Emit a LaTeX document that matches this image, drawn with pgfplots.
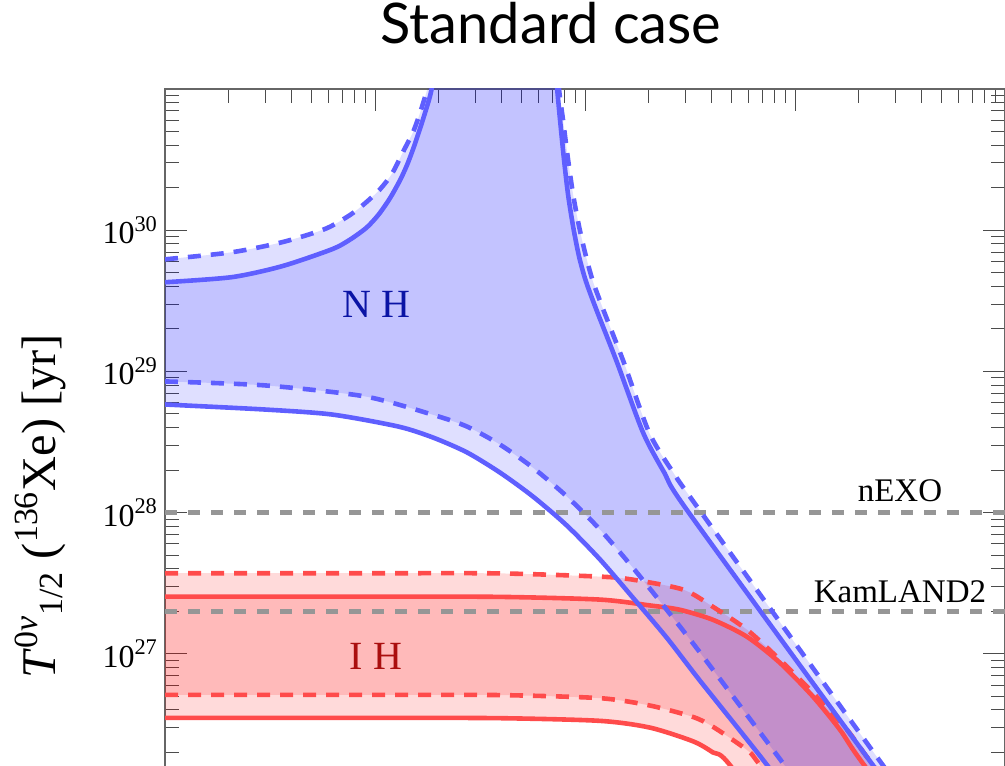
\documentclass[border=0pt]{standalone}
\usepackage{fontspec}
\setmainfont{Liberation Serif}
\newfontfamily\titlefont{Lato}
\usepackage{pgfplots}
\pgfplotsset{compat=1.18}
\usepgfplotslibrary{fillbetween}
\usepackage{pgfplotstable}

\definecolor{nhline}{RGB}{95,95,255}
\definecolor{ihline}{RGB}{255,75,75}
\definecolor{nhtext}{RGB}{10,20,165}
\definecolor{ihtext}{RGB}{170,15,15}
\definecolor{expgray}{RGB}{150,150,150}

% NH, solid, upper boundary (left branch + right branch)
\pgfplotstableread{
x y
1e-4 4.28e29
2.08e-4 4.65e29
3.61e-4 5.56e29
6.24e-4 7.33e29
7.60e-4 8.57e29
8.96e-4 1.02e30
9.68e-4 1.14e30
1.057e-3 1.33e30
1.18e-3 1.69e30
1.316e-3 2.26e30
1.42e-3 2.89e30
1.518e-3 3.75e30
1.60e-3 4.72e30
1.694e-3 6.12e30
1.828e-3 8.91e30
1.89e-3 1.18e31
2.0e-3 3.0e31
6.9e-3 3.0e31
7.36e-3 1.02e31
7.60e-3 6.12e30
7.94e-3 3.19e30
8.30e-3 1.80e30
8.77e-3 1.07e30
9.36e-3 6.55e29
1.01e-2 4.35e29
1.14e-2 2.67e29
1.42e-2 1.16e29
1.89e-2 3.69e28
2.40e-2 1.89e28
3.12e-2 1.0e28
0.22 1.86e26
0.4 5.6e25
}\nhsolidup

% NH, dashed, upper boundary
\pgfplotstableread{
x y
1e-4 6.22e29
2.08e-4 6.98e29
3.61e-4 8.22e29
5.78e-4 1.02e30
7.60e-4 1.28e30
8.96e-4 1.55e30
1.057e-3 1.95e30
1.21e-3 2.54e30
1.39e-3 3.82e30
1.518e-3 4.95e30
1.638e-3 6.76e30
1.77e-3 9.84e30
1.85e-3 1.28e31
1.95e-3 3.0e31
7.05e-3 3.0e31
7.51e-3 1.02e31
7.85e-3 6.12e30
8.30e-3 3.19e30
8.77e-3 1.80e30
9.36e-3 1.07e30
1.01e-2 6.55e29
1.09e-2 4.35e29
1.23e-2 2.67e29
1.53e-2 1.16e29
2.02e-2 3.69e28
2.65e-2 1.89e28
3.58e-2 1.0e28
0.2455 1.86e26
0.4 7.0e25
}\nhdashup

% NH, solid, lower boundary
\pgfplotstableread{
x y
1e-4 5.83e28
2.99e-4 5.37e28
6.24e-4 4.95e28
1.29e-3 4.07e28
1.89e-3 3.40e28
2.74e-3 2.67e28
3.94e-3 1.92e28
5.65e-3 1.30e28
8.2e-3 8.09e27
1.18e-2 4.65e27
1.69e-2 2.50e27
2.45e-2 1.30e27
3.53e-2 6.44e26
7.36e-2 1.63e26
0.15 3.9e25
}\nhsolidlow

% NH, dashed, lower boundary
\pgfplotstableread{
x y
1e-4 8.49e28
2.99e-4 7.96e28
8.96e-4 6.65e28
1.87e-3 4.95e28
2.74e-3 4.07e28
3.94e-3 3.03e28
5.65e-3 2.08e28
8.2e-3 1.30e28
1.18e-2 7.57e27
1.69e-2 4.07e27
2.45e-2 2.05e27
3.53e-2 1.02e27
8.2e-2 1.92e26
0.15 5.7e25
}\nhdashlow

% IH, dashed, upper boundary
\pgfplotstableread{
x y
1e-4 3.72e27
1e-3 3.72e27
3.94e-3 3.71e27
1.18e-2 3.52e27
1.69e-2 3.35e27
2.93e-2 2.85e27
4.07e-2 2.15e27
5.91e-2 1.48e27
8.48e-2 9.06e26
0.122 5.28e26
0.177 2.89e26
0.22 1.86e26
0.4 5.6e25
}\ihdashup

% IH, solid, upper boundary
\pgfplotstableread{
x y
1e-4 2.54e27
1e-3 2.54e27
3.94e-3 2.53e27
1.18e-2 2.42e27
2.04e-2 2.20e27
2.83e-2 2.05e27
4.07e-2 1.74e27
5.91e-2 1.32e27
8.48e-2 8.63e26
0.122 4.96e26
0.164 2.89e26
0.20 1.86e26
0.4 4.6e25
}\ihsolidup

% IH, dashed, lower boundary
\pgfplotstableread{
x y
1e-4 5.12e26
1e-3 5.12e26
3.94e-3 5.10e26
1.18e-2 4.85e26
2.04e-2 4.30e26
3.27e-2 3.57e26
4.07e-2 3.04e26
5.91e-2 2.08e26
6.81e-2 1.63e26
0.15 3.35e25
}\ihdashlow

% IH, solid, lower boundary
\pgfplotstableread{
x y
1e-4 3.52e26
1e-3 3.52e26
3.94e-3 3.50e26
1.18e-2 3.35e26
2.04e-2 3.00e26
3.27e-2 2.40e26
4.07e-2 2.00e26
4.90e-2 1.63e26
0.12 2.7e25
}\ihsolidlow

\begin{document}
\begin{tikzpicture}
\begin{axis}[
  at={(0,0)}, anchor=south west,
  scale only axis, width=420pt, height=353pt,
  xmode=log, ymode=log,
  xmin=1e-4, xmax=1, ymin=1e26, ymax=1e31,
  no markers,
  axis line style={black!60, line width=0.6pt},
  every tick/.style={black!70, line width=0.5pt},
  major tick length=11pt, minor tick length=7pt,
  xtick={1e-4,1e-3,1e-2,1e-1,1},
  xticklabels={,,,,},
  minor xtick={2e-4,3e-4,4e-4,5e-4,6e-4,7e-4,8e-4,9e-4,
               2e-3,3e-3,4e-3,5e-3,6e-3,7e-3,8e-3,9e-3,
               2e-2,3e-2,4e-2,5e-2,6e-2,7e-2,8e-2,9e-2,
               2e-1,3e-1,4e-1,5e-1,6e-1,7e-1,8e-1,9e-1},
  ytick={1e26,1e27,1e28,1e29,1e30,1e31},
  yticklabels={,10\textsuperscript{27},10\textsuperscript{28},10\textsuperscript{29},10\textsuperscript{30},},
  minor ytick={2e26,3e26,4e26,5e26,6e26,7e26,8e26,9e26,
               2e27,3e27,4e27,5e27,6e27,7e27,8e27,9e27,
               2e28,3e28,4e28,5e28,6e28,7e28,8e28,9e28,
               2e29,3e29,4e29,5e29,6e29,7e29,8e29,9e29,
               2e30,3e30,4e30,5e30,6e30,7e30,8e30,9e30},
  yticklabel style={font=\fontsize{16}{16}\selectfont, black},
  title={Standard case},
  title style={at={(axis description cs:0.4595,1.048)}, anchor=base,
               font=\titlefont\fontsize{28}{30}\selectfont},
  ylabel={\textit{T}\textsuperscript{0\textit{ν}}\textsubscript{1/2} (\textsuperscript{136}Xe) [yr]},
  ylabel style={at={(axis description cs:-0.1488,0.4093)}, anchor=center,
               font=\fontsize{24.2}{26}\selectfont},
  curve/.style={smooth, tension=0.45},
  solidline/.style={curve, line width=2.3pt},
  dashline/.style={curve, line width=2.3pt, dash pattern=on 6.5pt off 5pt},
]
% experimental sensitivities
\addplot[expgray, line width=2.5pt, dash pattern=on 6pt off 5.5pt] coordinates {(1e-4,1e28) (1,1e28)};
\addplot[expgray, line width=2.5pt, dash pattern=on 6pt off 5.5pt] coordinates {(1e-4,2e27) (1,2e27)};

% boundary paths (invisible) for fills
\addplot[curve, draw=none, name path=ihdu] table {\ihdashup};
\addplot[curve, draw=none, name path=ihdl] table {\ihdashlow};
\addplot[curve, draw=none, name path=ihsu] table {\ihsolidup};
\addplot[curve, draw=none, name path=ihsl] table {\ihsolidlow};
\addplot[curve, draw=none, name path=nhdu] table {\nhdashup};
\addplot[curve, draw=none, name path=nhdl] table {\nhdashlow};
\addplot[curve, draw=none, name path=nhsu] table {\nhsolidup};
\addplot[curve, draw=none, name path=nhsl] table {\nhsolidlow};

\addplot[draw=none, fill=red, fill opacity=0.145] fill between[of=ihdu and ihdl];
\addplot[draw=none, fill=red, fill opacity=0.145] fill between[of=ihsu and ihsl];
\addplot[draw=none, fill=blue, fill opacity=0.125] fill between[of=nhdu and nhdl];
\addplot[draw=none, fill=blue, fill opacity=0.125] fill between[of=nhsu and nhsl];

% IH lines
\addplot[ihline, solidline] table {\ihsolidup};
\addplot[ihline, solidline] table {\ihsolidlow};
\addplot[ihline, dashline] table {\ihdashup};
\addplot[ihline, dashline] table {\ihdashlow};
% NH lines
\addplot[nhline, solidline] table {\nhsolidup};
\addplot[nhline, solidline] table {\nhsolidlow};
\addplot[nhline, dashline] table {\nhdashup};
\addplot[nhline, dashline] table {\nhdashlow};

\node[nhtext, font=\fontsize{20}{20}\selectfont, anchor=base] at (axis cs:1.02e-3,2.42e29) {N H};
\node[ihtext, font=\fontsize{20}{20}\selectfont, anchor=base] at (axis cs:1.01e-3,7.71e26) {I H};
\node[black, font=\fontsize{16.5}{16.5}\selectfont, anchor=base] at (axis cs:0.316,1.20e28) {nEXO};
\node[black, font=\fontsize{16.5}{16.5}\selectfont, anchor=base] at (axis cs:0.316,2.30e27) {KamLAND2};
\end{axis}
\pgfresetboundingbox
\useasboundingbox (-82.5pt,15pt) rectangle (420pt,397.5pt);
\end{tikzpicture}
\end{document}
